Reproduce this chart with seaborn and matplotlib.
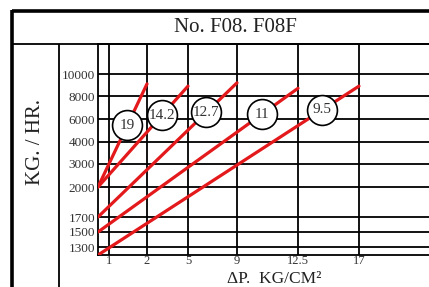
import numpy as np
import pandas as pd
import matplotlib
matplotlib.use('Agg')
import matplotlib.pyplot as plt
from matplotlib.lines import Line2D
import seaborn as sns

# chart values
curves = ['19', '14.2', '12.7', '11', '9.5']
dp_start = [0.7, 0.7, 0.7, 0.7, 0.7]
dp_end = [2, 5, 9, 12.5, 17]
flow_start = [2000, 2000, 1700, 1500, 1200]
flow_end = [9100, 8900, 9200, 8700, 8900]
x_ticks = [1, 2, 5, 9, 12.5, 17]
x_ticklabels = ['1', '2', '5', '9', '12.5', '17']
y_ticks = [1300, 1500, 1700, 2000, 3000, 4000, 6000, 8000, 10000]

# the printed chart spaces its ticks unevenly: piecewise scale knots (value -> px)
x_knots = [0.7, 1, 2, 5, 9, 12.5, 17, 23]
x_px = [0, 11, 49, 90, 139, 200, 261, 342]
y_knots = [1200, 1300, 1500, 1700, 2000, 3000, 4000, 6000, 8000, 10000, 12000]
y_px = [0, 8, 23, 38, 68, 91, 113, 136, 159, 181, 211]
label_frac = [0.6, 0.71, 0.78, 0.82, 0.86]

rows = []
for c, x0, x1, y0, y1 in zip(curves, dp_start, dp_end, flow_start, flow_end):
    rows.append({'curve': c, 'dp': x0, 'flow': y0})
    rows.append({'curve': c, 'dp': x1, 'flow': y1})
df = pd.DataFrame(rows)

sns.set_style('white')
plt.rcParams['font.family'] = ['Liberation Serif', 'DejaVu Serif']

W, H = 429, 287
fig = plt.figure(figsize=(W / 100, H / 100), dpi=100)
ax = fig.add_axes([98 / W, (H - 255) / H, 342 / W, 211 / H])

ax.set_xscale('function', functions=(lambda v: np.interp(v, x_knots, x_px),
                                     lambda p: np.interp(p, x_px, x_knots)))
ax.set_yscale('function', functions=(lambda v: np.interp(v, y_knots, y_px),
                                     lambda p: np.interp(p, y_px, y_knots)))
ax.set_xlim(x_knots[0], x_knots[-1])
ax.set_ylim(y_knots[0], y_knots[-1])

sns.lineplot(data=df, x='dp', y='flow', hue='curve', units='curve', estimator=None,
             palette=['#e3191c'] * len(curves), linewidth=2.3, legend=False,
             ax=ax, zorder=3)

ax.set_xticks(x_ticks)
ax.set_xticklabels(x_ticklabels)
ax.set_yticks(y_ticks)
ax.set_yticklabels([str(v) for v in y_ticks])
ax.minorticks_off()
ax.tick_params(length=0, labelsize=9.5, labelcolor='#333333', pad=2)
ax.tick_params(axis='x', labelsize=9, pad=0)
ax.grid(True, color='black', linewidth=1.3)
ax.set_xlabel('')
ax.set_ylabel('')
for s in ['left', 'bottom', 'top']:
    ax.spines[s].set_color('black')
    ax.spines[s].set_linewidth(1.3)
ax.spines['right'].set_visible(False)

# circled curve labels placed along each line
for c, x0, x1, y0, y1, t in zip(curves, dp_start, dp_end, flow_start, flow_end, label_frac):
    p0 = ax.transData.transform((x0, y0))
    p1 = ax.transData.transform((x1, y1))
    lx, ly = ax.transData.inverted().transform(p0 + t * (p1 - p0))
    ax.plot([lx], [ly], marker='o', ms=21.5, mfc='white', mec='black', mew=1.2, zorder=5)
    ax.text(lx, ly, c, ha='center', va='center', fontsize=11, color='#333333', zorder=6)

# table frame around the chart
def fline(xs, ys, lw):
    fig.add_artist(Line2D([x / W for x in xs], [1 - y / H for y in ys],
                          color='black', linewidth=lw, solid_capstyle='butt'))

fline([12, 12], [10, H], 2.6)
fline([12, W], [11, 11], 2.6)
fline([12, W], [44, 44], 1.3)
fline([59, 59], [44, H], 1.3)

fig.text(235 / W, 1 - 28 / H, 'No. F08. F08F', ha='center', va='center',
         fontsize=15, color='#222222')
fig.text(36 / W, 1 - 142 / H, 'KG. / HR.', ha='center', va='center', rotation=90,
         fontsize=15, color='#222222')
fig.text(274 / W, 0.0, 'ΔP.  KG/CM²', ha='center', va='bottom',
         fontsize=12.5, color='#222222')

fig.savefig('out.png', dpi=100)
